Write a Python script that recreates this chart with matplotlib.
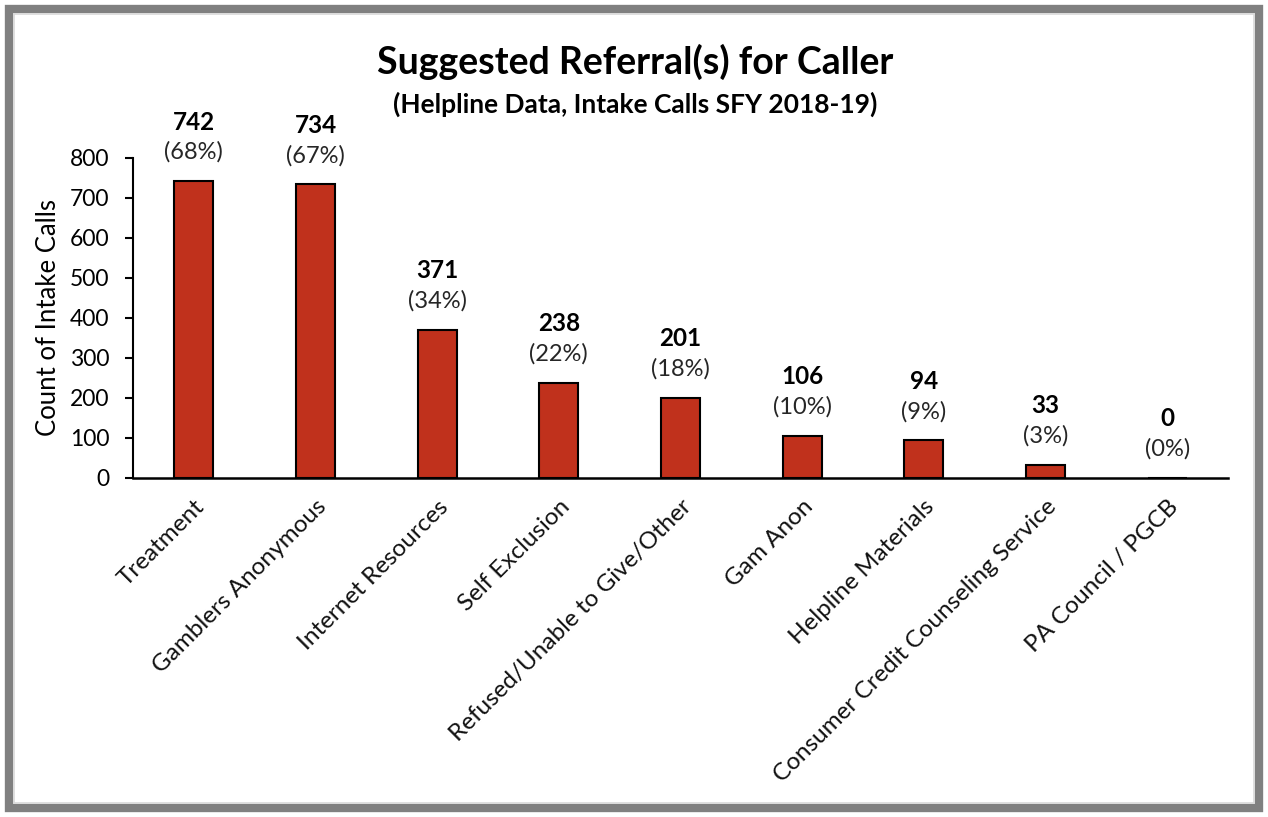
import matplotlib
matplotlib.use("Agg")
import matplotlib.pyplot as plt
from matplotlib.patches import Rectangle

categories = [
    "Treatment", "Gamblers Anonymous", "Internet Resources", "Self Exclusion",
    "Refused/Unable to Give/Other", "Gam Anon", "Helpline Materials",
    "Consumer Credit Counseling Service", "PA Council / PGCB",
]
counts = [742, 734, 371, 238, 201, 106, 94, 33, 0]
percents = [68, 67, 34, 22, 18, 10, 9, 3, 0]
y_ticks = [0, 100, 200, 300, 400, 500, 600, 700, 800]

plt.rcParams["font.family"] = ["Lato", "DejaVu Sans"]

W, H = 1268, 817
fig = plt.figure(figsize=(W / 100, H / 100), dpi=100)

# frame around the whole chart
fig.patches.append(Rectangle((9 / W, 9 / H), 1 - 18 / W, 1 - 18 / H,
                             transform=fig.transFigure, fill=False,
                             edgecolor="#808080", linewidth=6))
fig.patches.append(Rectangle((14 / W, 14 / H), 1 - 28 / W, 1 - 28 / H,
                             transform=fig.transFigure, fill=False,
                             edgecolor="#d9d9d9", linewidth=1.2))

left, right = 133, 1228
top, bottom = 158, 478
ax = fig.add_axes([left / W, 1 - bottom / H, (right - left) / W, (bottom - top) / H])

x = list(range(len(categories)))
ax.bar(x, counts, width=0.32, color="#c0311c", edgecolor="#000000",
       linewidth=1.5, zorder=3)

ax.set_xlim(-0.5, len(categories) - 0.5)
ax.set_ylim(0, 800)
ax.set_yticks(y_ticks)
ax.tick_params(axis="y", direction="out", length=6, width=1.5,
               labelsize=16.5, colors="#000000", pad=11)
ax.tick_params(axis="x", length=0, pad=13)
ax.set_xticks(x)
ax.set_xticklabels(categories, rotation=45, ha="right",
                   rotation_mode="anchor", fontsize=17.5, color="#111111")

for side in ("top", "right"):
    ax.spines[side].set_visible(False)
ax.spines["left"].set_linewidth(1.5)
ax.spines["bottom"].set_linewidth(1.8)
ax.spines["left"].set_bounds(0, 800)

ax.set_ylabel("Count of Intake Calls", fontsize=18.5, labelpad=6)

px = 72 / 100  # points per pixel
for xi, c, p in zip(x, counts, percents):
    ax.annotate(f"({p}%)", (xi, c), xytext=(0, 29 * px), textcoords="offset points",
                ha="center", va="center", fontsize=17, color="#262626",
                annotation_clip=False)
    ax.annotate(f"{c}", (xi, c), xytext=(0, 59 * px), textcoords="offset points",
                ha="center", va="center", fontsize=17.5, fontweight="bold",
                color="#000000", annotation_clip=False)

fig.text(635 / W, 1 - 62 / H, "Suggested Referral(s) for Caller",
         ha="center", va="center", fontsize=27, fontweight="bold")
fig.text(635 / W, 1 - 104 / H, "(Helpline Data, Intake Calls SFY 2018-19)",
         ha="center", va="center", fontsize=19, fontweight="bold")

fig.savefig("out.png", dpi=100, facecolor="white")
